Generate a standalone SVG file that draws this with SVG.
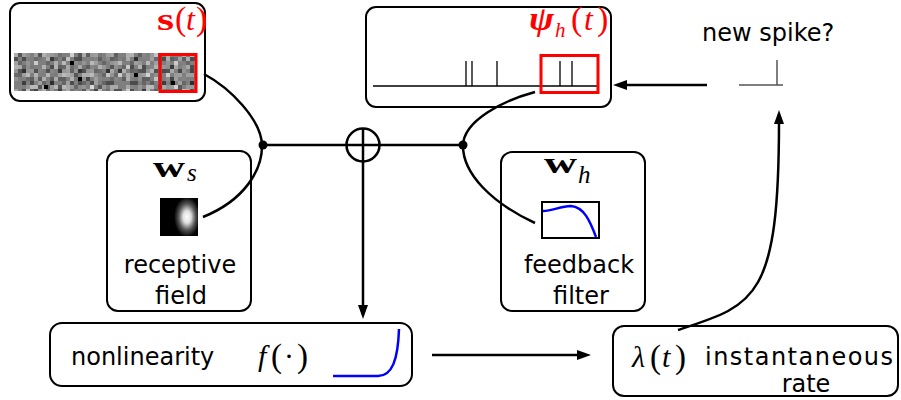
<svg xmlns="http://www.w3.org/2000/svg" width="901" height="400" viewBox="0 0 901 400">
  <style>
    .box { fill: #fff; stroke: #000; stroke-width: 2; }
    .label { font-family: "DejaVu Sans", "Noto Sans", sans-serif; font-size: 24px; fill: #000; }
    .math { font-family: "Liberation Serif", "DejaVu Serif", serif; fill: #000; }
    .red { fill: #ff0000; }
    .wire { fill: none; stroke: #000; stroke-width: 2.5; }
    .frame-red { fill: none; stroke: #ff0000; stroke-width: 3; }
    .curve-blue { fill: none; stroke: #0000ff; stroke-width: 2.5; }
  </style>
  <defs>
    <marker id="arrow" viewBox="0 0 14 10" markerWidth="14" markerHeight="10" markerUnits="userSpaceOnUse" refX="3" refY="5" orient="auto">
      <path d="M0,0 L14,5 L0,10 Z" fill="#000"/>
    </marker>
    <!-- three overlapping cell patterns with coprime periods give a random-looking grey noise -->
    <pattern id="noiseA" patternUnits="userSpaceOnUse" x="14" y="53" width="28" height="12">
      <rect x="0" y="0" width="4" height="4" fill="#fff" fill-opacity="0.38"/>
      <rect x="8" y="4" width="4" height="4" fill="#000" fill-opacity="0.4"/>
      <rect x="16" y="0" width="4" height="4" fill="#000" fill-opacity="0.25"/>
      <rect x="20" y="8" width="4" height="4" fill="#fff" fill-opacity="0.45"/>
      <rect x="4" y="8" width="4" height="4" fill="#000" fill-opacity="0.2"/>
      <rect x="24" y="4" width="4" height="4" fill="#fff" fill-opacity="0.25"/>
      <rect x="12" y="8" width="4" height="4" fill="#fff" fill-opacity="0.16"/>
      <rect x="12" y="0" width="4" height="4" fill="#fff" fill-opacity="0.12"/>
    </pattern>
    <pattern id="noiseB" patternUnits="userSpaceOnUse" x="14" y="53" width="20" height="16">
      <rect x="4" y="0" width="4" height="4" fill="#000" fill-opacity="0.32"/>
      <rect x="12" y="4" width="4" height="4" fill="#fff" fill-opacity="0.36"/>
      <rect x="0" y="8" width="4" height="4" fill="#fff" fill-opacity="0.25"/>
      <rect x="16" y="12" width="4" height="4" fill="#000" fill-opacity="0.4"/>
      <rect x="8" y="12" width="4" height="4" fill="#000" fill-opacity="0.2"/>
      <rect x="16" y="0" width="4" height="4" fill="#fff" fill-opacity="0.2"/>
      <rect x="0" y="4" width="4" height="4" fill="#000" fill-opacity="0.16"/>
    </pattern>
    <pattern id="noiseC" patternUnits="userSpaceOnUse" x="14" y="53" width="12" height="20">
      <rect x="0" y="4" width="4" height="4" fill="#000" fill-opacity="0.25"/>
      <rect x="8" y="0" width="4" height="4" fill="#fff" fill-opacity="0.25"/>
      <rect x="4" y="12" width="4" height="4" fill="#fff" fill-opacity="0.32"/>
      <rect x="8" y="16" width="4" height="4" fill="#000" fill-opacity="0.36"/>
      <rect x="0" y="16" width="4" height="4" fill="#fff" fill-opacity="0.16"/>
    </pattern>
    <radialGradient id="rfBlob" gradientUnits="userSpaceOnUse" cx="187" cy="217" r="13" gradientTransform="translate(187 217) scale(1 1.55) translate(-187 -217)">
      <stop offset="0" stop-color="#fff"/>
      <stop offset="0.3" stop-color="#e0e0e0"/>
      <stop offset="0.65" stop-color="#555"/>
      <stop offset="1" stop-color="#000"/>
    </radialGradient>
  </defs>

  <!-- stimulus s(t) -->
  <g id="stimulus">
    <rect class="box" x="10" y="3" width="195" height="98" rx="10"/>
    <rect x="14" y="53" width="182" height="38" fill="#7f7f7f"/>
    <rect x="14" y="53" width="182" height="38" fill="url(#noiseA)"/>
    <rect x="14" y="53" width="182" height="38" fill="url(#noiseB)"/>
    <rect x="14" y="53" width="182" height="38" fill="url(#noiseC)"/>
    <g fill="#000">
      <rect x="70" y="61" width="4" height="4"/>
      <rect x="78" y="77" width="4" height="4"/>
      <rect x="44" y="85" width="4" height="4"/>
      <rect x="134" y="73" width="4" height="4"/>
      <rect x="171" y="81" width="4" height="4"/>
    </g>
    <rect class="frame-red" x="160" y="54.5" width="36" height="37"/>
    <text class="math red" x="157" y="30" font-size="32" font-weight="bold" textLength="17" lengthAdjust="spacingAndGlyphs">s</text>
    <text class="math red" x="175" y="30" font-size="34">(</text>
    <text class="math red" x="186" y="30" font-size="32" font-style="italic">t</text>
    <text class="math red" x="196" y="30" font-size="34">)</text>
  </g>

  <!-- spike history psi_h(t) -->
  <g id="history">
    <rect class="box" x="366" y="7" width="245" height="100" rx="10"/>
    <g stroke="#000" stroke-width="1.3">
      <line x1="373" y1="86" x2="597" y2="86"/>
      <line x1="466" y1="61" x2="466" y2="86"/>
      <line x1="472" y1="61" x2="472" y2="86"/>
      <line x1="497" y1="61" x2="497" y2="86"/>
      <line x1="560" y1="61" x2="560" y2="86"/>
      <line x1="572" y1="61" x2="572" y2="86"/>
    </g>
    <rect class="frame-red" x="541" y="55.5" width="57" height="37"/>
    <text class="math red" x="529" y="30" font-size="34" font-weight="bold" font-style="italic" textLength="25" lengthAdjust="spacingAndGlyphs">ψ</text>
    <text class="math red" x="555" y="37" font-size="21" font-style="italic">h</text>
    <text class="math red" x="571" y="30" font-size="34">(</text>
    <text class="math red" x="584" y="30" font-size="32" font-style="italic">t</text>
    <text class="math red" x="597" y="30" font-size="34">)</text>
  </g>

  <!-- new spike output -->
  <g id="new-spike">
    <text class="label" x="702" y="41">new spike?</text>
    <path d="M739,85 H783 M777,85 V60" fill="none" stroke="#555" stroke-width="1.5"/>
  </g>

  <!-- stimulus filter -->
  <g id="receptive-field">
    <rect class="box" x="107" y="151" width="144" height="160" rx="11"/>
    <text class="math" x="153" y="177" font-size="30" font-weight="bold" textLength="32" lengthAdjust="spacingAndGlyphs">w</text>
    <text class="math" x="187" y="181" font-size="25" font-style="italic">s</text>
    <rect x="160" y="198" width="38" height="38" fill="#000"/>
    <rect x="160" y="198" width="38" height="38" fill="url(#rfBlob)"/>
    <text class="label" x="180" y="273" text-anchor="middle">receptive</text>
    <text class="label" x="181" y="304" text-anchor="middle">field</text>
  </g>

  <!-- post-spike filter -->
  <g id="feedback-filter">
    <rect class="box" x="501" y="152" width="144" height="159" rx="11"/>
    <text class="math" x="544" y="173" font-size="30" font-weight="bold" textLength="33" lengthAdjust="spacingAndGlyphs">w</text>
    <text class="math" x="578" y="183" font-size="25" font-style="italic">h</text>
    <rect x="542" y="202" width="57" height="36" fill="#fff" stroke="#000" stroke-width="2"/>
    <path class="curve-blue" d="M543,211 C553,211 560,206 571,206 C584,207 590,221 596,237"/>
    <text class="label" x="579" y="273" text-anchor="middle">feedback</text>
    <text class="label" x="581" y="304" text-anchor="middle">filter</text>
  </g>

  <!-- nonlinearity -->
  <g id="nonlinearity">
    <rect class="box" x="50" y="323" width="362" height="63" rx="12"/>
    <text class="label" x="71" y="365">nonlinearity</text>
    <text class="math" x="258" y="366" font-size="30" font-style="italic">f</text>
    <text class="math" x="271" y="367" font-size="33">(</text>
    <text class="math" x="284" y="366" font-size="30">·</text>
    <text class="math" x="297" y="367" font-size="33">)</text>
    <path class="curve-blue" d="M333,376 H378 C392,376 398,360 399,329"/>
  </g>

  <!-- conditional intensity -->
  <g id="rate">
    <rect class="box" x="613" y="326" width="285" height="70" rx="11"/>
    <text class="math" x="632" y="367" font-size="30" font-style="italic">λ</text>
    <text class="math" x="650" y="368" font-size="33">(</text>
    <text class="math" x="662" y="367" font-size="30" font-style="italic">t</text>
    <text class="math" x="675" y="368" font-size="33">)</text>
    <text class="label" x="705" y="365" font-size="25.5" textLength="188">instantaneous</text>
    <text class="label" x="806" y="392" text-anchor="middle">rate</text>
  </g>

  <!-- connectors -->
  <g id="connectors">
    <path class="wire" d="M204,74 C230,88 262,120 262,146 C262,170 245,200 203,217"/>
    <path class="wire" d="M535,92 C505,100 463,120 463,146 C463,174 492,203 535,223"/>
    <line class="wire" x1="262" y1="145" x2="463" y2="145"/>
    <circle cx="263" cy="145" r="4.5" fill="#000"/>
    <circle cx="463" cy="145" r="4.5" fill="#000"/>
    <circle cx="363" cy="145" r="16.5" fill="#fff" stroke="#000" stroke-width="2.5"/>
    <line class="wire" x1="346.5" y1="145" x2="379.5" y2="145"/>
    <path class="wire" d="M363,128.5 V308" marker-end="url(#arrow)"/>
    <path class="wire" d="M432,355 H580" marker-end="url(#arrow)"/>
    <path class="wire" d="M707,85 H624" marker-end="url(#arrow)"/>
    <path class="wire" d="M678,330 C755,305 779,300 779,121" marker-end="url(#arrow)"/>
  </g>
</svg>
